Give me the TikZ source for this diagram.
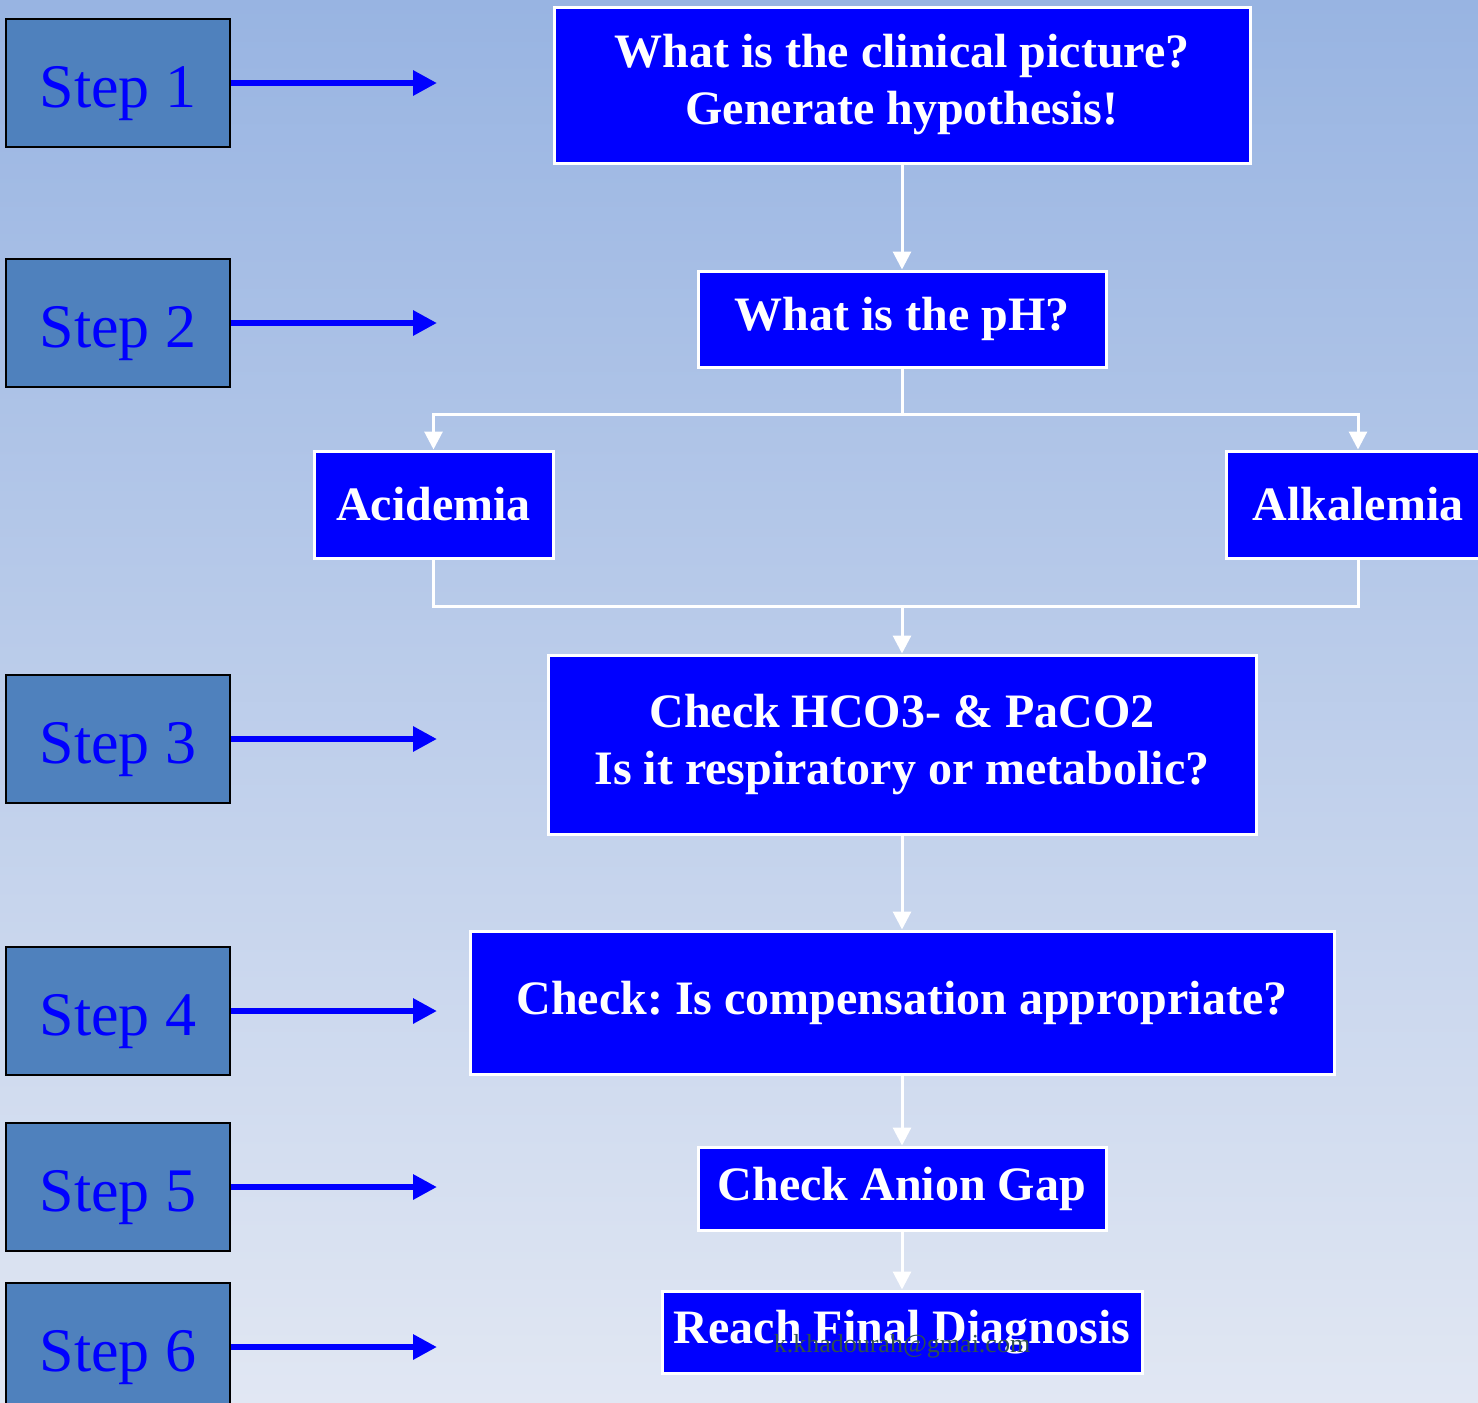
\documentclass[tikz,border=0pt]{standalone}
\usepackage{fontspec}
\setmainfont{Liberation Serif}
\usetikzlibrary{arrows.meta, positioning}
\frenchspacing
\definecolor{bgtop}{HTML}{98B4E2}
\definecolor{bgbot}{HTML}{E1E7F3}
\definecolor{stepfill}{HTML}{4F81BD}
\definecolor{flowfill}{HTML}{0000FF}
\definecolor{wmark}{HTML}{2F4F4F}
\tikzset{
  stepbox/.style={draw=black, line width=2.5pt, fill=stepfill, text=blue,
    minimum width=224pt, minimum height=128pt, inner sep=0pt,
    text height=48pt, text depth=0pt, font=\fontsize{62}{70}\selectfont},
  steparrow/.style={blue, line width=6pt, -{Triangle[length=24pt, width=24pt]}},
  flowbox/.style={draw=white, line width=3pt, fill=flowfill, text=white, align=center,
    inner sep=0pt, font=\bfseries\fontsize{48}{57}\selectfont},
  link/.style={white, line width=3pt},
  linkarrow/.style={link, -{Triangle[length=18pt, width=18pt]}},
  watermark/.style={text=wmark, font=\fontsize{26}{30}\selectfont, inner sep=0pt}
}
\begin{document}
\begin{tikzpicture}[x=1pt, y=-1pt]
  \useasboundingbox (0,0) rectangle (1478,1403);
  \clip (0,0) rectangle (1478,1403);
  \shade[top color=bgtop, bottom color=bgbot] (0,0) rectangle (1478,1403);
  % steps on the left
  \foreach \n/\y in {1/83, 2/323, 3/739, 4/1011, 5/1187, 6/1347}{
    \node[stepbox] (s\n) at (118,\y) {Step \n};
    \coordinate (t\n) at (437,\y);
    \draw[steparrow] (s\n.east) -- (t\n);
  }
  % flow chart
  \node[flowbox, minimum width=696pt, minimum height=156pt] (clin) at (902,85)
    {What is the clinical picture?\\Generate hypothesis!};
  \node[flowbox, minimum width=408pt, minimum height=96pt] (ph) at (902,319) {What is the pH?};
  \node[flowbox, minimum width=239pt, minimum height=107pt] (acid) at (433.5,504.5) {Acidemia};
  \node[flowbox, minimum width=264pt, minimum height=107pt] (alk) at (1358,504.5) {Alkalemia};
  \node[flowbox, minimum width=708pt, minimum height=179pt] (resp) at (902,744.5)
    {Check HCO3- \& PaCO2\\Is it respiratory or metabolic?};
  \node[flowbox, minimum width=864pt, minimum height=143pt] (comp) at (902,1002.5)
    {Check: Is compensation appropriate?};
  \node[flowbox, minimum width=408pt, minimum height=83pt] (gap) at (902,1188.5) {Check Anion Gap};
  \node[flowbox, minimum width=480pt, minimum height=82pt] (diag) at (902,1332) {Reach Final Diagnosis};
  \coordinate (split) at (902,414);
  \coordinate (merge) at (902,606);
  \draw[linkarrow] (clin) -- (ph);
  \draw[link] (ph) -- (split);
  \draw[linkarrow] (split) -| (acid);
  \draw[linkarrow] (split) -| (alk);
  \draw[link] (acid) |- (merge) -| (alk);
  \draw[linkarrow] (merge) -- (resp);
  \draw[linkarrow] (resp) -- (comp);
  \draw[linkarrow] (comp) -- (gap);
  \draw[linkarrow] (gap) -- (diag);
  \node[watermark, anchor=base] (wm) at (902,1352) {k.khadourah@gmai.com};
\end{tikzpicture}
\end{document}
